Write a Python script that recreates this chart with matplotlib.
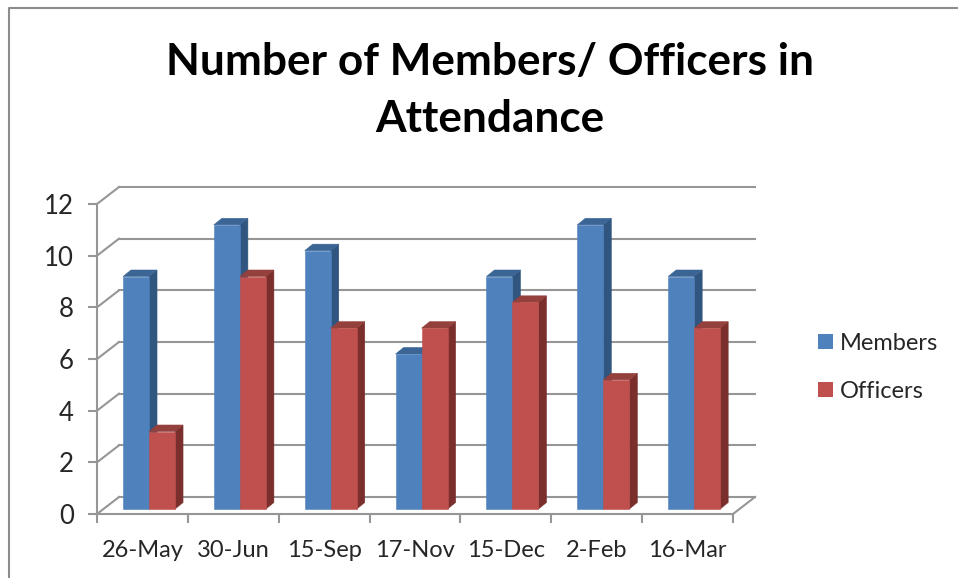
import matplotlib
matplotlib.use('Agg')
import matplotlib.pyplot as plt
from matplotlib.patches import Polygon, Patch
from matplotlib.transforms import IdentityTransform

plt.rcParams['font.family'] = ['Lato', 'DejaVu Sans']

dates = ['26-May', '30-Jun', '15-Sep', '17-Nov', '15-Dec', '2-Feb', '16-Mar']
members = [9, 11, 10, 6, 9, 11, 9]
officers = [3, 9, 7, 7, 8, 5, 7]
yticks = [0, 2, 4, 6, 8, 10, 12]

W, H = 958, 578
fig = plt.figure(figsize=(W / 100, H / 100), dpi=100)
ax = fig.add_axes([97 / W, 1 - 514 / H, 636 / W, 310 / H])
ax.set_xlim(0, len(dates))
ax.set_ylim(0, 12)

GREY = '#969696'
ident = IdentityTransform()

# all 3d bits are drawn in pixels, offset from the data position
def px(x, y, dx=0, dy=0):
    a, b = ax.transData.transform((x, y))
    return (a + dx, b + dy)

def line(p, q, z=1):
    ax.plot([p[0], q[0]], [p[1], q[1]], color=GREY, lw=1.5, transform=ident,
            clip_on=False, zorder=z, solid_capstyle='projecting')

# back wall
for v in yticks:
    line(px(0, v), px(0, v, 22, 17))
    line(px(0, v, 22, 17), px(len(dates), v, 22, 17))
line(px(len(dates), 0), px(len(dates), 0, 22, 17))

def face(pts, col):
    ax.add_patch(Polygon(pts, fc=col, ec=col, lw=0.4, transform=ident, clip_on=False, zorder=3))

def bar3d(x, val, width, front, side, top):
    # x, width in category units; front plane sits a little into the floor
    x0, x1 = x, x + width
    bl = px(x0, 0, 6.6, 5)
    br = px(x1, 0, 6.6, 5)
    tl = px(x0, val, 6.6, 5)
    tr = px(x1, val, 6.6, 5)
    d = (8, 6.5)
    sh = lambda p: (p[0] + d[0], p[1] + d[1])
    face([br, tr, sh(tr), sh(br)], side)
    face([tl, tr, sh(tr), sh(tl)], top)
    face([bl, br, tr, tl], front)

w = 26 / (636 / len(dates))
for i in range(len(dates)):
    c = i + 0.5
    bar3d(c - w, members[i], w, '#4F81BD', '#30557F', '#3A6595')
    bar3d(c, officers[i], w, '#C0504D', '#7A2F2D', '#94403D')

for s in ['top', 'right']:
    ax.spines[s].set_visible(False)
for s in ['left', 'bottom']:
    ax.spines[s].set_color(GREY)
    ax.spines[s].set_linewidth(1.5)

ax.set_yticks(yticks)
ax.set_xticks(range(len(dates) + 1))
ax.set_xticklabels([])
ax.set_xticks([i + 0.5 for i in range(len(dates))], minor=True)
ax.set_xticklabels(dates, minor=True)
ax.tick_params(axis='x', which='major', length=6.5, width=1.5, color=GREY)
ax.tick_params(axis='x', which='minor', length=0, pad=18.5, labelsize=17, labelcolor='#262626')
ax.tick_params(axis='y', length=6.5, width=1.5, color=GREY, pad=10, labelsize=18.5, labelcolor='#262626')
ax.patch.set_alpha(0)

fig.text(490 / W, 1 - 62 / H, 'Number of Members/ Officers in', ha='center', va='center',
         fontsize=31.8, fontweight='bold', color='black')
fig.text(490 / W, 1 - 119 / H, 'Attendance', ha='center', va='center',
         fontsize=31.8, fontweight='bold', color='black')

handles = [Patch(fc='#4F81BD', label='Members'), Patch(fc='#C0504D', label='Officers')]
fig.legend(handles=handles, loc='upper left', bbox_to_anchor=(818 / W, 1 - 333 / H), frameon=False,
           fontsize=17, handlelength=0.62, handleheight=0.62, handletextpad=0.3, borderpad=0,
           labelspacing=1.13, labelcolor='#262626', borderaxespad=0)

# chart frame, runs off the top right and bottom of the crop
fig.add_artist(plt.Line2D([9 / W, 9 / W, 1], [0, 1 - 8 / H, 1 - 8 / H], color='#8C8C8C', lw=1.5))

fig.savefig('out.png', dpi=100)
